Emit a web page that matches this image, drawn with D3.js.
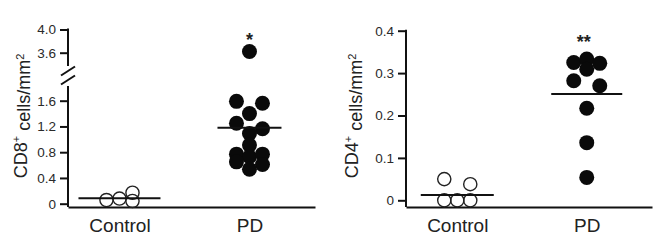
<!DOCTYPE html>
<html>
<head>
<meta charset="utf-8">
<script src="https://cdn.jsdelivr.net/npm/d3@7"></script>
<style>
  body { margin: 0; background: #fff; }
  svg { display: block; }
  text { font-family: "Liberation Sans", Arial, Helvetica, sans-serif; fill: #222; }
  .axis path, .axis line { stroke: #111; stroke-width: 2; }
  .axis text { font-size: 13.5px; fill: #2a2a2a; }
  .xaxis text { font-size: 19px; fill: #222; }
</style>
</head>
<body>
<svg id="chart" width="655" height="246"></svg>
<script>
// Categories
const groups = ["Control", "PD"];

// CD8+ panel values (cells/mm2); slot = column of the dot inside its group
const cd8Control = [0.057, 0.08, 0.17, 0.042];
const cd8ControlSlot = [-1, 0, 1, 1];
const cd8PD = [3.62, 1.59, 1.56, 1.40, 1.25, 1.165, 1.09, 0.91, 0.77, 0.73, 0.77, 0.65, 0.61, 0.535];
const cd8PDSlot = [0, -1, 1, 0, -1, 1, 0, 0, -1, 0, 1, -1, 1, 0];
const cd8Median = [0.085, 1.18];
const cd8TicksLow = [0, 0.4, 0.8, 1.2, 1.6];
const cd8TicksHigh = [3.6, 4.0];

// CD4+ panel values (cells/mm2)
const cd4Control = [0.05, 0.038, 0, 0, 0];
const cd4ControlSlot = [-1, 1, -1, 0, 1];
const cd4PD = [0.325, 0.333, 0.323, 0.309, 0.282, 0.27, 0.217, 0.136, 0.054];
const cd4PDSlot = [-1, 0, 1, 0, -1, 1, 0, 0, 0];
const cd4Median = [0.0125, 0.251];
const cd4Ticks = [0, 0.1, 0.2, 0.3, 0.4];

// Significance marks over PD
const significance = ["*", "**"];

const svg = d3.select("#chart");
const fmt = d => d === 0 ? "0" : d3.format(".1f")(d);
const slotGap = 13;
const baseY = 207;

// Draw the dots and median lines of one panel
function drawDots(g, x, yv, control, controlSlot, pd, pdSlot, medians, halfWidths) {
  g.append("g").selectAll("circle")
    .data(pd.map((v, i) => ({ v, s: pdSlot[i] })))
    .enter()
    .append("circle")
    .attr("cx", d => x("PD") + d.s * slotGap)
    .attr("cy", d => yv(d.v))
    .attr("r", 7.5)
    .attr("fill", "#0a0a0a");

  g.append("g").selectAll("circle")
    .data(control.map((v, i) => ({ v, s: controlSlot[i] })))
    .enter()
    .append("circle")
    .attr("cx", d => x("Control") + d.s * slotGap)
    .attr("cy", d => yv(d.v))
    .attr("r", 6.6)
    .attr("fill", "none")
    .attr("stroke", "#222")
    .attr("stroke-width", 1.4);

  // median lines
  g.append("g").selectAll("line")
    .data(groups.map((c, i) => ({ c, m: medians[i], hw: halfWidths[i] })))
    .enter()
    .append("line")
    .attr("x1", d => x(d.c) - d.hw)
    .attr("x2", d => x(d.c) + d.hw)
    .attr("y1", d => yv(d.m))
    .attr("y2", d => yv(d.m))
    .attr("stroke", "#111")
    .attr("stroke-width", 2);
}

function drawTitle(g, tx, label) {
  const t = g.append("text")
    .attr("transform", `translate(${tx},116) rotate(-90)`)
    .attr("text-anchor", "middle")
    .style("font-size", "18px");
  t.append("tspan").text("CD" + label);
  t.append("tspan").attr("dy", "-0.55em").style("font-size", "11px").text("+");
  t.append("tspan").attr("dy", "0.55em").text(" cells/mm");
  t.append("tspan").attr("dy", "-0.55em").style("font-size", "11px").text("2");
}

function drawXAxis(g, x) {
  g.append("g")
    .attr("class", "axis xaxis")
    .attr("transform", `translate(0,${baseY})`)
    .call(d3.axisBottom(x).tickSize(0).tickSizeOuter(0).tickPadding(12))
    .call(a => a.selectAll(".tick line").remove());
}

// ---------- Left panel: CD8+ ----------
const left = svg.append("g");
const xL = d3.scalePoint().domain(groups).range([68, 315]).padding(0.45).align(0.44);
const yLow = d3.scaleLinear().domain([0, 1.6]).range([203.7, 100.7]);
const yHigh = d3.scaleLinear().domain([3.6, 4.0]).range([52.7, 29.5]);
const yCd8 = v => v > 2 ? yHigh(v) : yLow(v);

left.append("g")
  .attr("class", "axis")
  .attr("transform", "translate(68,0)")
  .call(d3.axisLeft(yLow).tickValues(cd8TicksLow).tickSize(8).tickPadding(4).tickFormat(fmt))
  .call(a => a.select(".domain").remove());

left.append("g")
  .attr("class", "axis")
  .attr("transform", "translate(68,0)")
  .call(d3.axisLeft(yHigh).tickValues(cd8TicksHigh).tickSize(8).tickPadding(4).tickFormat(fmt))
  .call(a => a.select(".domain").remove());

// broken y axis
const axisLine = left.append("g").attr("stroke", "#111").attr("stroke-width", 2);
axisLine.append("line").attr("x1", 68).attr("x2", 68).attr("y1", yHigh(4.0) - 1).attr("y2", 66);
axisLine.append("line").attr("x1", 68).attr("x2", 68).attr("y1", 86).attr("y2", baseY);
[71, 80].forEach(cy => {
  axisLine.append("line")
    .attr("x1", 61).attr("y1", cy + 4.5)
    .attr("x2", 75).attr("y2", cy - 4.5);
});

drawXAxis(left, xL);
drawDots(left, xL, yCd8, cd8Control, cd8ControlSlot, cd8PD, cd8PDSlot, cd8Median, [41, 32]);
drawTitle(left, 26.5, "8");

left.append("text")
  .attr("x", xL("PD"))
  .attr("y", 46)
  .attr("text-anchor", "middle")
  .style("font-size", "18px")
  .style("font-weight", "bold")
  .text(significance[0]);

// ---------- Right panel: CD4+ ----------
const right = svg.append("g");
const xR = d3.scalePoint().domain(groups).range([406, 652]).padding(0.45).align(0.44);
const yCd4 = d3.scaleLinear().domain([0, 0.4]).range([200.3, 30.7]);

right.append("g")
  .attr("class", "axis")
  .attr("transform", "translate(406,0)")
  .call(d3.axisLeft(yCd4).tickValues(cd4Ticks).tickSize(8).tickPadding(4).tickFormat(fmt))
  .call(a => a.select(".domain").remove());

right.append("line")
  .attr("x1", 406).attr("x2", 406)
  .attr("y1", yCd4(0.4) - 1).attr("y2", baseY)
  .attr("stroke", "#111").attr("stroke-width", 2);

drawXAxis(right, xR);
drawDots(right, xR, yCd4, cd4Control, cd4ControlSlot, cd4PD, cd4PDSlot, cd4Median, [36.5, 35.5]);
drawTitle(right, 358, "4");

right.append("text")
  .attr("x", xR("PD") - 3)
  .attr("y", 48)
  .attr("text-anchor", "middle")
  .style("font-size", "18px")
  .style("font-weight", "bold")
  .text(significance[1]);
</script>
</body>
</html>
